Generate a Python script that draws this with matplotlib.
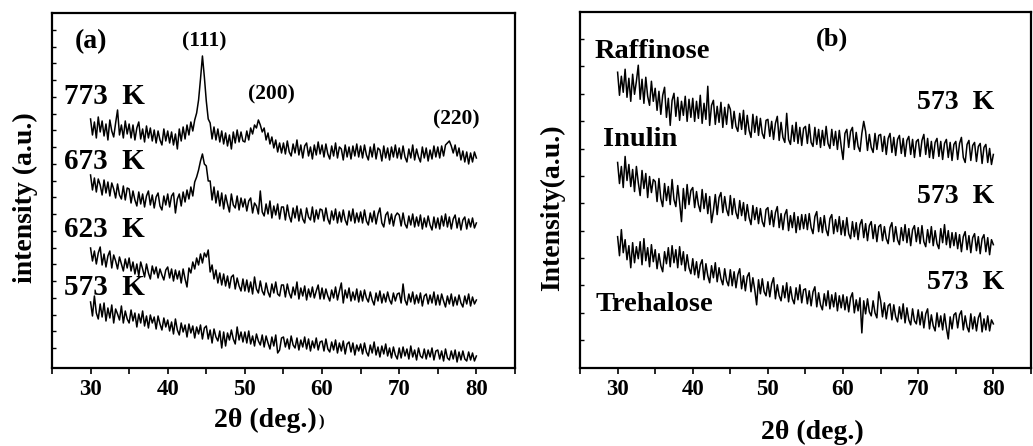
# XRD patterns: (a) annealing temperature, (b) sugar template
import numpy as np
import matplotlib
matplotlib.use('Agg')
import matplotlib.pyplot as plt

plt.rcParams['font.family'] = 'Liberation Serif'
plt.rcParams['font.weight'] = 'bold'

# 2theta grid, 30 -> 80 deg in 0.25 deg steps
two_theta = np.arange(30, 80.001, 0.25)

# (a) intensities (a.u., stacked)
i_573 = [66, 52, 72, 55, 49, 64, 51, 65, 47, 60, 50, 63, 45, 59, 54, 48, 62, 45, 57, 49,
         45, 58, 47, 55, 41, 54, 45, 57, 42, 52, 40, 53, 45, 51, 39, 52, 44, 38, 50, 41,
         48, 37, 46, 34, 49, 38, 33, 45, 36, 43, 31, 44, 35, 42, 30, 41, 34, 43, 29, 40,
         42, 29, 38, 25, 39, 31, 27, 37, 20, 36, 22, 35, 28, 38, 29, 24, 41, 28, 36, 26,
         36, 25, 37, 24, 32, 22, 34, 27, 23, 33, 21, 32, 25, 19, 31, 22, 33, 15, 18, 30,
         31, 21, 29, 19, 32, 23, 20, 30, 18, 28, 21, 31, 19, 29, 17, 27, 20, 30, 18, 26,
         27, 17, 29, 19, 16, 26, 18, 28, 15, 25, 17, 27, 14, 24, 26, 16, 25, 13, 23, 17,
         24, 14, 25, 16, 12, 23, 15, 26, 13, 21, 11, 22, 14, 24, 12, 20, 10, 21, 13, 9,
         20, 10, 21, 12, 19, 9, 22, 11, 18, 8, 20, 12, 10, 19, 9, 18, 11, 20, 8, 17,
         18, 9, 17, 7, 19, 10, 8, 17, 9, 18, 6, 16, 8, 17, 9, 7, 16, 8, 15, 7,
         12]
i_623 = [120, 107, 117, 104, 115, 121, 103, 114, 101, 112, 117, 100, 113, 107, 99, 111, 104, 97, 109, 100,
         110, 97, 106, 94, 104, 92, 106, 99, 91, 104, 95, 89, 102, 94, 101, 90, 99, 93, 88, 98,
         101, 90, 99, 87, 98, 89, 97, 85, 99, 89, 81, 100, 95, 106, 99, 110, 103, 114, 105, 115,
         111, 118, 96, 103, 89, 98, 85, 95, 83, 94, 82, 92, 80, 91, 93, 79, 90, 82, 77, 89,
         77, 88, 76, 86, 74, 91, 79, 75, 87, 77, 73, 85, 76, 71, 84, 75, 86, 74, 72, 83,
         83, 71, 84, 75, 70, 81, 73, 86, 69, 80, 72, 82, 68, 79, 71, 81, 70, 77, 83, 69,
         80, 69, 79, 72, 67, 78, 70, 81, 68, 77, 85, 65, 78, 70, 80, 67, 76, 68, 79, 66,
         77, 67, 78, 70, 66, 76, 68, 63, 75, 67, 77, 65, 74, 66, 76, 68, 64, 75, 67, 74,
         75, 65, 84, 68, 63, 74, 66, 76, 64, 73, 65, 75, 62, 72, 74, 64, 73, 65, 76, 63,
         73, 63, 74, 67, 61, 72, 64, 74, 62, 71, 63, 73, 65, 61, 72, 64, 74, 62, 71, 64,
         68]
i_673 = [193, 178, 190, 176, 189, 183, 173, 188, 175, 186, 172, 185, 179, 170, 184, 173, 169, 182, 168, 180,
         179, 165, 177, 168, 162, 176, 164, 174, 161, 172, 177, 163, 173, 160, 171, 175, 162, 158, 172, 163,
         174, 161, 172, 175, 155, 169, 174, 162, 176, 166, 178, 169, 181, 172, 186, 191, 198, 207, 214, 204,
         202, 187, 187, 168, 181, 165, 177, 162, 175, 159, 173, 164, 156, 174, 163, 160, 172, 158, 170, 161,
         169, 157, 167, 170, 155, 165, 162, 154, 177, 156, 152, 164, 154, 167, 150, 162, 153, 164, 149, 161,
         161, 148, 163, 152, 146, 160, 150, 162, 147, 159, 149, 145, 160, 151, 148, 161, 146, 158, 149, 159,
         158, 147, 160, 149, 144, 157, 148, 159, 145, 156, 146, 158, 148, 143, 157, 147, 159, 145, 155, 146,
         156, 145, 158, 147, 143, 155, 146, 157, 144, 154, 160, 145, 141, 153, 156, 144, 154, 142, 152, 155,
         153, 142, 155, 144, 140, 152, 143, 154, 141, 151, 142, 153, 139, 150, 141, 152, 143, 138, 151, 140,
         150, 139, 152, 142, 154, 141, 151, 139, 149, 153, 140, 150, 138, 148, 151, 139, 149, 141, 150, 140,
         145]
i_773 = [249, 233, 246, 230, 251, 236, 247, 232, 244, 228, 248, 237, 231, 245, 258, 233, 243, 230, 247, 234,
         244, 230, 243, 228, 240, 246, 229, 239, 226, 242, 230, 240, 227, 238, 225, 237, 228, 223, 239, 227,
         237, 225, 236, 223, 234, 219, 239, 227, 241, 229, 243, 233, 246, 237, 248, 255, 268, 289, 312, 291,
         267, 249, 245, 229, 241, 228, 239, 226, 237, 224, 235, 222, 233, 219, 236, 225, 238, 226, 236, 227,
         226, 237, 228, 240, 234, 243, 240, 248, 243, 236, 240, 228, 235, 224, 231, 220, 228, 216, 225, 215,
         225, 214, 227, 216, 212, 224, 215, 228, 213, 223, 210, 222, 225, 212, 221, 209, 223, 213, 226, 214,
         223, 211, 224, 214, 209, 222, 212, 225, 210, 221, 219, 208, 223, 211, 221, 209, 222, 212, 224, 211,
         222, 210, 223, 213, 208, 221, 211, 224, 209, 220, 218, 207, 222, 210, 220, 208, 221, 211, 223, 210,
         220, 209, 222, 211, 206, 219, 210, 223, 208, 219, 211, 206, 221, 210, 220, 207, 218, 209, 222, 211,
         221, 210, 222, 212, 223, 225, 227, 222, 215, 223, 212, 220, 208, 217, 206, 216, 204, 215, 206, 216,
         210]

# (b) intensities, all annealed at 573 K
i_raff = [295, 272, 291, 275, 298, 270, 289, 266, 293, 273, 286, 302, 268, 288, 264, 290, 271, 262, 286, 266,
          279, 257, 276, 253, 272, 280, 250, 269, 242, 267, 274, 251, 270, 247, 266, 252, 271, 246, 268, 250,
          269, 246, 266, 249, 272, 244, 264, 248, 281, 242, 262, 267, 243, 261, 245, 265, 240, 260, 243, 263,
          258, 239, 256, 241, 236, 254, 238, 257, 233, 252, 237, 230, 253, 235, 251, 232, 249, 234, 229, 247,
          248, 231, 246, 228, 244, 251, 227, 245, 230, 225, 254, 228, 223, 242, 226, 245, 224, 240, 222, 239,
          241, 224, 243, 225, 221, 240, 223, 238, 220, 237, 222, 241, 224, 219, 238, 222, 236, 218, 237, 221,
          208, 234, 238, 220, 236, 240, 218, 235, 221, 216, 234, 246, 236, 217, 233, 220, 215, 234, 218, 232,
          233, 216, 231, 213, 229, 234, 215, 230, 212, 228, 232, 214, 229, 211, 227, 231, 213, 228, 210, 226,
          228, 211, 227, 233, 213, 229, 210, 226, 209, 225, 229, 211, 226, 208, 224, 228, 210, 225, 207, 223,
          226, 208, 224, 230, 210, 205, 223, 227, 207, 222, 225, 206, 221, 224, 204, 220, 223, 205, 219, 203,
          213]
i_inul = [205, 184, 201, 180, 211, 187, 203, 181, 198, 176, 201, 185, 172, 197, 179, 194, 170, 191, 175, 188,
          186, 166, 189, 169, 161, 184, 167, 181, 163, 188, 168, 161, 182, 165, 146, 179, 159, 183, 163, 177,
          180, 160, 176, 163, 156, 178, 159, 174, 154, 171, 145, 157, 173, 153, 170, 175, 155, 171, 158, 152,
          172, 153, 169, 155, 149, 167, 152, 165, 147, 163, 150, 143, 162, 148, 160, 144, 159, 146, 141, 158,
          160, 143, 157, 141, 155, 161, 140, 154, 138, 153, 158, 137, 152, 140, 155, 135, 151, 138, 153, 139,
          153, 138, 154, 140, 134, 151, 156, 136, 150, 135, 152, 138, 132, 149, 153, 134, 148, 136, 151, 133,
          147, 132, 150, 134, 129, 146, 131, 145, 128, 143, 148, 130, 144, 127, 142, 146, 129, 143, 126, 141,
          143, 127, 141, 129, 124, 140, 145, 126, 141, 128, 123, 140, 127, 143, 125, 139, 122, 138, 142, 126,
          140, 124, 142, 126, 121, 138, 125, 141, 122, 137, 124, 119, 139, 125, 143, 123, 137, 120, 135, 122,
          135, 119, 133, 116, 131, 136, 118, 132, 115, 130, 134, 117, 131, 114, 129, 133, 116, 130, 113, 128,
          123]
i_treh = [131, 112, 138, 115, 128, 108, 122, 100, 125, 105, 121, 109, 126, 103, 129, 107, 120, 101, 123, 106,
          118, 99, 114, 102, 96, 116, 104, 120, 101, 122, 105, 118, 100, 121, 103, 116, 97, 113, 100, 94,
          109, 93, 106, 90, 103, 108, 88, 104, 92, 85, 102, 90, 105, 86, 100, 89, 83, 99, 87, 82,
          98, 82, 96, 80, 93, 99, 79, 92, 77, 91, 95, 76, 90, 78, 63, 88, 74, 89, 76, 72,
          86, 71, 84, 90, 69, 83, 72, 67, 82, 70, 85, 66, 81, 69, 64, 80, 68, 83, 65, 78,
          79, 64, 77, 62, 76, 81, 61, 75, 63, 58, 74, 62, 77, 59, 73, 61, 75, 57, 72, 60,
          73, 58, 71, 56, 70, 75, 55, 68, 57, 70, 35, 67, 54, 69, 56, 52, 67, 55, 50, 76,
          67, 51, 65, 49, 62, 64, 48, 63, 51, 46, 61, 49, 64, 45, 60, 48, 43, 59, 47, 44,
          58, 43, 56, 40, 54, 59, 39, 53, 42, 37, 55, 41, 52, 38, 54, 40, 29, 51, 39, 53,
          55, 40, 53, 57, 38, 52, 41, 36, 54, 39, 51, 37, 50, 55, 36, 49, 38, 52, 37, 48,
          44]

temps_a = ['573  K', '623  K', '673  K', '773  K']
peaks = ['(111)', '(200)', '(220)']
sugars = ['Raffinose', 'Inulin', 'Trehalose']

fig = plt.figure(figsize=(10.33, 4.46), dpi=100)
ax1 = fig.add_axes([0.0503, 0.1749, 0.4482, 0.7960])
ax2 = fig.add_axes([0.5615, 0.1749, 0.4365, 0.7980])

# (a)
for y in [i_573, i_623, i_673, i_773]:
    ax1.plot(two_theta, y, color='black', lw=1.1)
ax1.set_xlim(25, 85)
ax1.set_ylim(0, 355)
ax1.set_yticks(np.linspace(20, 338, 20))

for t, yy in zip(temps_a, [80, 138, 206, 271]):
    ax1.text(26.5, yy, t, fontsize=21, va='center', ha='left')
for p, xx, yy in zip(peaks, [44.7, 53.4, 77.4], [326, 273, 248]):
    ax1.text(xx, yy, p, fontsize=15.5, va='center', ha='center')
ax1.text(30.0, 326, '(a)', fontsize=20, va='center', ha='center')

# (b)
for y in [i_raff, i_inul, i_treh]:
    ax2.plot(two_theta, y, color='black', lw=1.1)
ax2.set_xlim(25, 83.5)
ax2.set_ylim(0, 355)
ax2.set_yticks(np.linspace(28, 328, 12))

for s, xx, yy in zip(sugars, [27.0, 28.0, 27.1], [316, 228, 63]):
    ax2.text(xx, yy, s, fontsize=20.5, va='center', ha='left')
for xx, yy in zip([69.9, 69.9, 71.2], [265, 171, 85]):
    ax2.text(xx, yy, '573  K', fontsize=20, va='center', ha='left')
ax2.text(58.5, 328, '(b)', fontsize=19, va='center', ha='center')

for ax in [ax1, ax2]:
    ax.set_xticks(range(30, 81, 10))
    ax.set_xticks(range(25, 86, 5), minor=True)
    ax.tick_params(axis='x', which='both', direction='out', length=4, width=1.2,
                   labelsize=16.5, pad=4)
    ax.tick_params(axis='y', direction='in', length=3, width=1, labelleft=False)
    for sp in ax.spines.values():
        sp.set_linewidth(1.6)

# axis titles
fig.text(0.2565, 0.058, '2θ (deg.)', fontsize=20, ha='center', va='center')
fig.text(0.3085, 0.052, ')', fontsize=12, ha='left', va='center')
fig.text(0.786, 0.031, '2θ (deg.)', fontsize=20, ha='center', va='center')
fig.text(0.0242, 0.558, 'intensity (a.u.)', fontsize=20, rotation=90, ha='center', va='center')
fig.text(0.535, 0.534, 'Intensity(a.u.)', fontsize=20, rotation=90, ha='center', va='center')

fig.savefig('out.png', dpi=100)
